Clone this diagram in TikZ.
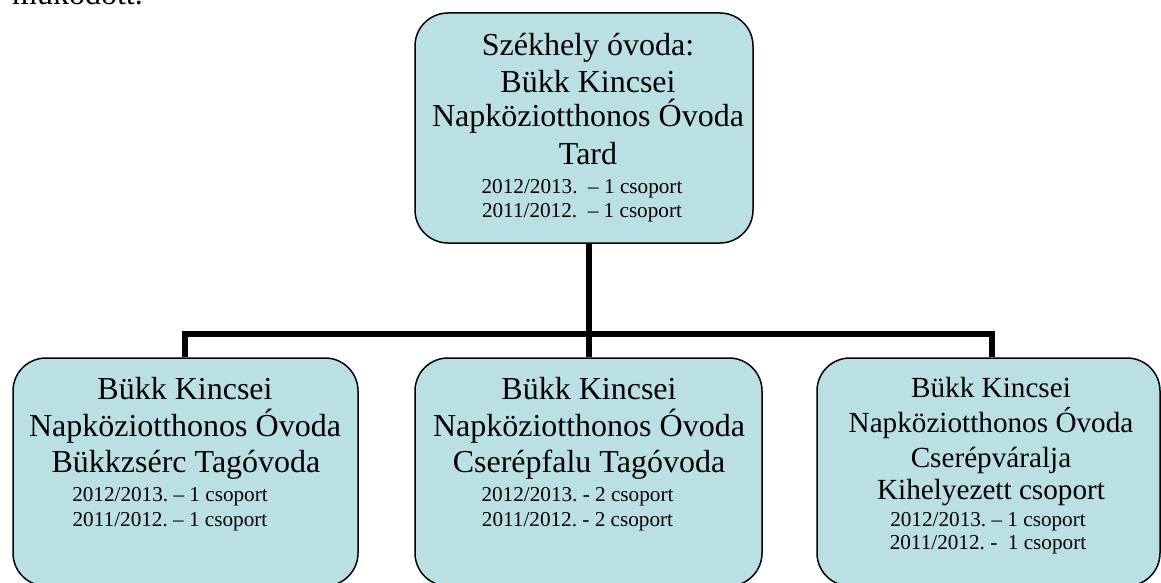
\documentclass[tikz,border=0pt]{standalone}
\usepackage{fontspec}
\setmainfont{Liberation Serif}
\definecolor{boxfill}{RGB}{186,224,227}
\frenchspacing
\tikzset{
  orgbox/.style={draw=black, line width=1.5pt, fill=boxfill, rounded corners=33pt, inner sep=0pt},
  big/.style={anchor=base, inner sep=0pt, font=\fontsize{32}{36}\selectfont},
  bigr/.style={anchor=base, inner sep=0pt, font=\fontsize{29.2}{34}\selectfont},
  small/.style={anchor=base, inner sep=0pt, font=\fontsize{21.2}{24}\selectfont},
  conn/.style={draw=black, line width=6pt, line join=miter, line cap=rect}
}
\begin{document}
\begin{tikzpicture}[x=1pt,y=-1pt]
\useasboundingbox (0,0) rectangle (1161,583);
\clip (0,0) rectangle (1161,583);
\fill[white] (0,0) rectangle (1161,583);

\node[anchor=base west, inner sep=0pt, font=\fontsize{32}{36}\selectfont] (prev) at (12,5) {működött.};

% boxes
\node[orgbox, minimum width=338pt, minimum height=230pt] (top) at (584,128) {};
\node[orgbox, minimum width=345pt, minimum height=228pt] (left) at (185.5,472) {};
\node[orgbox, minimum width=347pt, minimum height=228pt] (mid) at (588.5,472) {};
\node[orgbox, minimum width=343pt, minimum height=228pt] (right) at (988.5,472) {};

% connectors
\coordinate (busL) at (185,334);
\coordinate (busR) at (992,334);
\draw[conn, line cap=butt] (top.south -| mid.north) -- (mid.north);
\draw[conn, line cap=butt] (left.north -| busL) -- (busL) -- (busR) -- (right.north -| busR);

% top box text
\node[big] (t1) at (588,56) {Székhely óvoda:};
\node[big] (t2) at (588,93) {Bükk Kincsei};
\node[big] (t3) at (588,127) {Napköziotthonos Óvoda};
\node[big] (t4) at (588,164) {Tard};
\node[small] (t5) at (582,193) {2012/2013.~~– 1 csoport};
\node[small] (t6) at (582,217) {2011/2012.~~– 1 csoport};

% left box text
\node[big] (l1) at (185,399) {Bükk Kincsei};
\node[big] (l2) at (185,436) {Napköziotthonos Óvoda};
\node[big] (l3) at (186,472) {Bükkzsérc Tagóvoda};
\node[small] (l4) at (170,501) {2012/2013. – 1 csoport};
\node[small] (l5) at (170,526) {2011/2012. – 1 csoport};

% middle box text
\node[big] (m1) at (589,399) {Bükk Kincsei};
\node[big] (m2) at (589,436) {Napköziotthonos Óvoda};
\node[big] (m3) at (589,472) {Cserépfalu Tagóvoda};
\node[small] (m4) at (577.5,501) {2012/2013. - 2 csoport};
\node[small] (m5) at (577.5,526) {2011/2012. - 2 csoport};

% right box text
\node[bigr] (r1) at (991,397) {Bükk Kincsei};
\node[bigr] (r2) at (991,432) {Napköziotthonos Óvoda};
\node[bigr] (r3) at (991,467) {Cserépváralja};
\node[bigr] (r4) at (991,499) {Kihelyezett csoport};
\node[small] (r5) at (988,526) {2012/2013. – 1 csoport};
\node[small] (r6) at (988,549) {2011/2012. -~~1 csoport};
\end{tikzpicture}
\end{document}
